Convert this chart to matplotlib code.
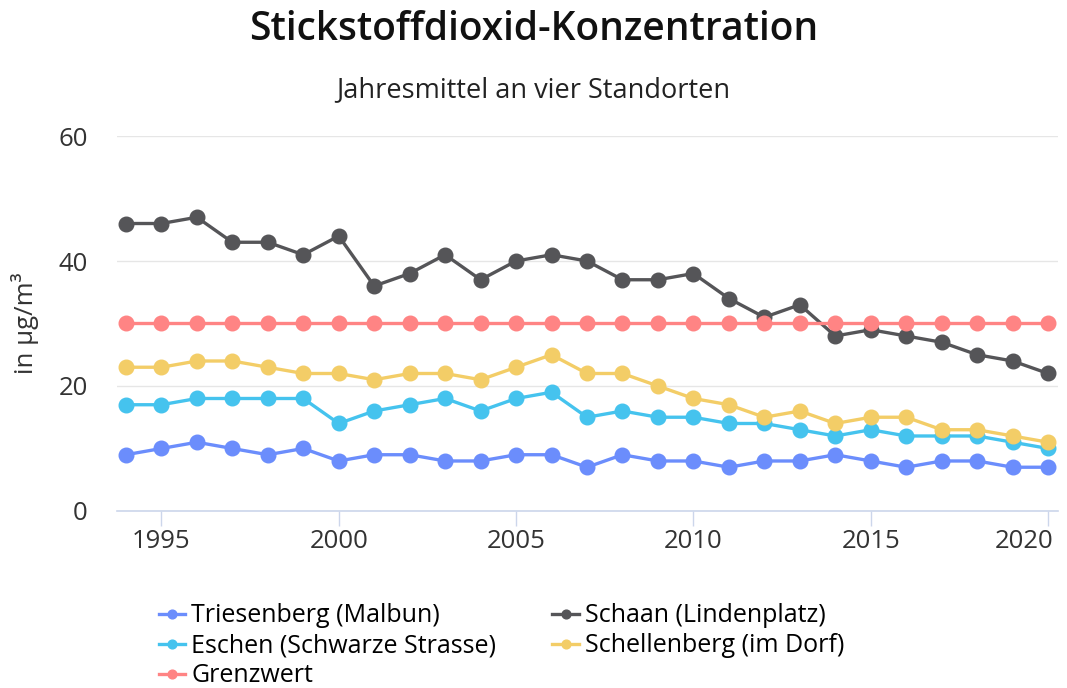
import matplotlib.pyplot as plt
from matplotlib.transforms import ScaledTranslation

plt.rcParams['font.family'] = ['Open Sans', 'DejaVu Sans']

years = list(range(1994, 2021))
triesenberg = [9, 10, 11, 10, 9, 10, 8, 9, 9, 8, 8, 9, 9, 7, 9, 8, 8, 7, 8, 8, 9, 8, 7, 8, 8, 7, 7]
schaan = [46, 46, 47, 43, 43, 41, 44, 36, 38, 41, 37, 40, 41, 40, 37, 37, 38, 34, 31, 33, 28, 29, 28, 27, 25, 24, 22]
eschen = [17, 17, 18, 18, 18, 18, 14, 16, 17, 18, 16, 18, 19, 15, 16, 15, 15, 14, 14, 13, 12, 13, 12, 12, 12, 11, 10]
schellenberg = [23, 23, 24, 24, 23, 22, 22, 21, 22, 22, 21, 23, 25, 22, 22, 20, 18, 17, 15, 16, 14, 15, 15, 13, 13, 12, 11]
grenzwert = [30] * len(years)

labels = ["Triesenberg (Malbun)", "Schaan (Lindenplatz)", "Eschen (Schwarze Strasse)",
          "Schellenberg (im Dorf)", "Grenzwert"]
colors = ["#6b8dfc", "#555558", "#45c3ee", "#f3cd67", "#ff8484"]
series = [triesenberg, schaan, eschen, schellenberg, grenzwert]

fig = plt.figure(figsize=(10.67, 6.88), dpi=100)
ax = fig.add_axes([0.1097, 0.2573, 0.8819, 0.545])

handles = []
for vals, lab, col in zip(series, labels, colors):
    h, = ax.plot(years, vals, color=col, lw=2.4, marker='o', ms=10.5, label=lab)
    handles.append(h)

ax.set_xlim(1993.75, 2020.28)
ax.set_ylim(0, 60)
ax.set_yticks([0, 20, 40, 60])
ax.set_xticks([1995, 2000, 2005, 2010, 2015, 2020])
ax.grid(axis='y', color='#e6e6e6', lw=1)
ax.set_axisbelow(True)
for s in ['top', 'right', 'left']:
    ax.spines[s].set_visible(False)
ax.spines['bottom'].set_color('#ccd6eb')
ax.spines['bottom'].set_linewidth(1.2)
ax.tick_params(axis='y', length=0, pad=21, labelsize=18.5, labelcolor='#333333')
ax.tick_params(axis='x', length=11, width=1, color='#ccd6eb', pad=2, labelsize=18.5, labelcolor='#333333')
ax.set_ylabel("in µg/m³", fontsize=18.5, color='#333333', labelpad=14)

# last year label is pushed left so it stays inside the picture
last = ax.get_xticklabels()[-1]
last.set_ha('right')
last.set_transform(last.get_transform() + ScaledTranslation(0.05, 0, fig.dpi_scale_trans))

fig.text(0.5, 0.956, "Stickstoffdioxid-Konzentration", ha='center', va='center',
         fontsize=28, fontweight='semibold', color='#111111')
fig.text(0.5, 0.869, "Jahresmittel an vier Standorten", ha='center', va='center',
         fontsize=19.5, color='#222222')

order = [0, 2, 4, 1, 3]
fig.legend([handles[i] for i in order], [labels[i] for i in order], ncol=2,
           loc='upper left', bbox_to_anchor=(0.137, 0.141), frameon=False,
           fontsize=18, handlelength=1.05, handletextpad=0.25, columnspacing=2.25,
           labelspacing=0.2, markerscale=0.6, borderpad=0)

fig.savefig("out.png", dpi=100)
